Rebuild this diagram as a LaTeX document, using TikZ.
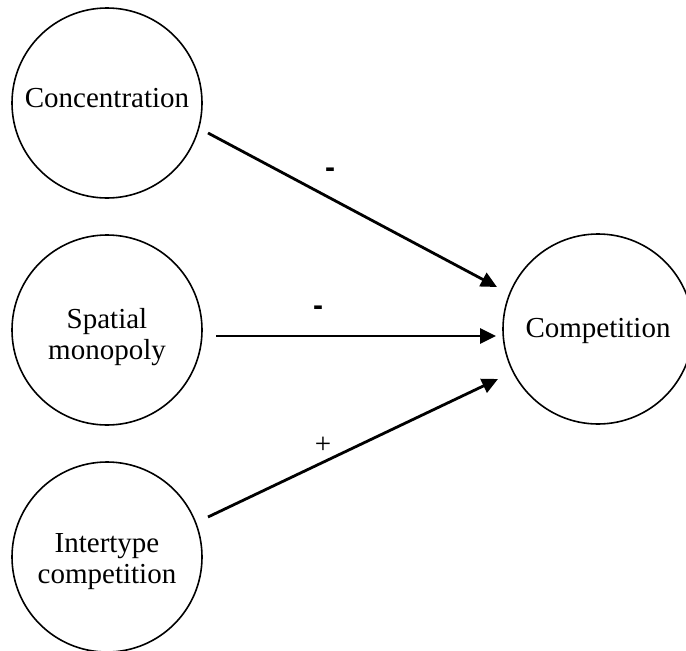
\documentclass[tikz,border=0pt]{standalone}
\usepackage{fontspec}
\setmainfont{Liberation Serif}
\newfontfamily\signfont{Liberation Sans}
\usetikzlibrary{arrows.meta}
\begin{document}
\begin{tikzpicture}[x=1pt,y=-1pt,
  concept/.style={circle,draw,line width=1.6pt,minimum size=190pt,inner sep=0pt},
  ctext/.style={align=center,inner sep=0pt,font=\fontsize{29}{31}\selectfont},
  link/.style={line width=2.8pt,-{Triangle[length=16pt,width=15pt]}},
  minus/.style={inner sep=0pt,font=\signfont\bfseries\fontsize{30}{32}\selectfont},
  plus/.style={inner sep=0pt,font=\fontsize{29}{32}\selectfont}]
\useasboundingbox (0,0) rectangle (686,651);
\clip (0,0) rectangle (686,651);
\node[concept] (conc) at (107,103) {};
\node[concept] (spat) at (107,330) {};
\node[concept] (inter) at (107,557) {};
\node[concept] (comp) at (598,329) {};
\node[ctext] (conct) at (107,98) {Concentration};
\node[ctext] (spatt) at (107,337) {Spatial\\monopoly};
\node[ctext] (intert) at (107,562) {Intertype\\competition};
\node[ctext] (compt) at (598,331) {Competition};
\coordinate (a1s) at (208,133);
\coordinate (a1e) at (497,287);
\coordinate (a2s) at (216,336);
\coordinate (a2e) at (496,336);
\coordinate (a3s) at (208,517);
\coordinate (a3e) at (498,379);
\draw[link] (a1s) -- (a1e);
\draw[link] (a2s) -- (a2e);
\draw[link] (a3s) -- (a3e);
\node[minus] (s1) at (330,173) {-};
\node[minus] (s2) at (318,311) {-};
\node[plus] (s3) at (323,445) {+};
\end{tikzpicture}
\end{document}
